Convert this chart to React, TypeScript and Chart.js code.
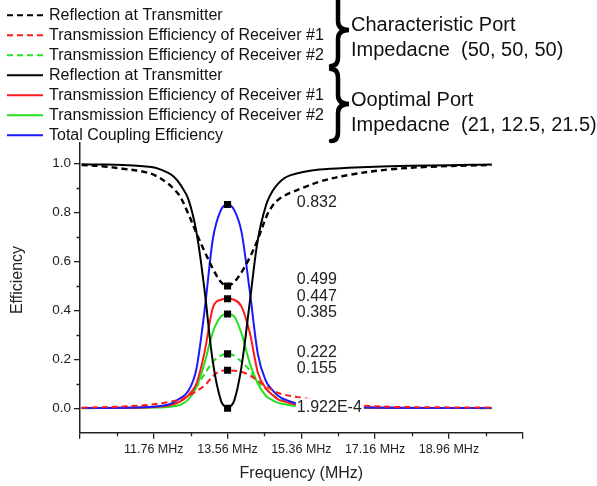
import React, { useEffect, useRef } from 'react';
import { Chart, registerables } from 'chart.js';

Chart.register(...registerables);

// ---------- data ----------
const FREQ = [10.0, 10.5, 11.0, 11.5, 11.8, 12.1, 12.25, 12.4, 12.6, 12.8, 13.0, 13.2, 13.4, 13.56, 13.72, 13.9, 14.1, 14.3, 14.5, 14.65, 14.8, 14.95, 15.1, 15.4, 15.8, 16.5, 17.5, 18.5, 19.5, 20.0];

const CHAR_REFL = [0.993, 0.988, 0.978, 0.966, 0.95, 0.918, 0.895, 0.865, 0.795, 0.715, 0.64, 0.57, 0.515, 0.499, 0.515, 0.555, 0.615, 0.69, 0.78, 0.825, 0.852, 0.868, 0.88, 0.9, 0.925, 0.952, 0.975, 0.986, 0.991, 0.993];
const CHAR_T1 = [0.002, 0.004, 0.007, 0.012, 0.017, 0.025, 0.03, 0.034, 0.05, 0.07, 0.092, 0.13, 0.153, 0.155, 0.153, 0.148, 0.135, 0.112, 0.09, 0.075, 0.062, 0.055, 0.05, 0.042, 0.028, 0.014, 0.006, 0.004, 0.003, 0.003];
const CHAR_T2 = [0.0005, 0.001, 0.002, 0.004, 0.006, 0.01, 0.017, 0.027, 0.053, 0.088, 0.14, 0.19, 0.215, 0.222, 0.215, 0.19, 0.155, 0.11, 0.078, 0.056, 0.038, 0.029, 0.022, 0.013, 0.007, 0.003, 0.0015, 0.001, 0.0008, 0.0006];
const OPT_REFL = [0.996, 0.995, 0.993, 0.988, 0.982, 0.962, 0.945, 0.915, 0.855, 0.72, 0.48, 0.19, 0.03, 0.0002, 0.03, 0.17, 0.43, 0.69, 0.83, 0.885, 0.918, 0.94, 0.952, 0.965, 0.975, 0.982, 0.988, 0.991, 0.994, 0.995];
const OPT_T1 = [0.0004, 0.0008, 0.0015, 0.003, 0.005, 0.01, 0.017, 0.027, 0.052, 0.1, 0.23, 0.41, 0.443, 0.447, 0.443, 0.415, 0.31, 0.145, 0.08, 0.055, 0.035, 0.027, 0.02, 0.01, 0.006, 0.003, 0.0015, 0.001, 0.0007, 0.0005];
const OPT_T2 = [0.0002, 0.0004, 0.0008, 0.0015, 0.0025, 0.005, 0.008, 0.013, 0.035, 0.085, 0.185, 0.31, 0.375, 0.385, 0.375, 0.305, 0.185, 0.1, 0.05, 0.033, 0.022, 0.016, 0.012, 0.007, 0.004, 0.002, 0.001, 0.0006, 0.0004, 0.0003];
const TOTAL = [0.0005, 0.001, 0.002, 0.004, 0.007, 0.014, 0.025, 0.04, 0.07, 0.16, 0.4, 0.69, 0.81, 0.832, 0.81, 0.72, 0.48, 0.22, 0.11, 0.075, 0.05, 0.036, 0.027, 0.012, 0.007, 0.004, 0.002, 0.001, 0.0008, 0.0006];

const MARKER_FREQ = 13.56;
const MARKER_VALUES = [0.832, 0.499, 0.447, 0.385, 0.222, 0.155, 0.0002];
const VALUE_LABELS = ['0.832', '0.499', '0.447', '0.385', '0.222', '0.155', '1.922E-4'];
const VALUE_LABEL_Y = [0.839, 0.527, 0.456, 0.39, 0.229, 0.16, 0.004];
const VALUE_LABEL_X = 15.25;

const X_MAJOR = [9.96, 11.76, 13.56, 15.36, 17.16, 18.96, 20.76];
const X_LABELED = [11.76, 13.56, 15.36, 17.16, 18.96];
const X_MINOR = [10.86, 12.66, 14.46, 16.26, 18.06, 19.86];
const Y_MAJOR = [0, 0.2, 0.4, 0.6, 0.8, 1.0];
const Y_MINOR = [0.1, 0.3, 0.5, 0.7, 0.9];

const X_TITLE = 'Frequency (MHz)';
const Y_TITLE = 'Efficiency';
const LEGEND_LABELS = [
  'Reflection at Transmitter',
  'Transmission Efficiency of Receiver #1',
  'Transmission Efficiency of Receiver #2',
  'Reflection at Transmitter',
  'Transmission Efficiency of Receiver #1',
  'Transmission Efficiency of Receiver #2',
  'Total Coupling Efficiency',
];
const GROUP_TEXT = [
  ['Characteristic Port', 'Impedacne  (50, 50, 50)'],
  ['Ooptimal Port', 'Impedacne  (21, 12.5, 21.5)'],
];

// ---------- styles ----------
const FONT = "'Liberation Sans', Arial, Helvetica, sans-serif";
const BLACK = '#000000';
const RED = '#ff1a1a';
const GREEN = '#22e022';
const BLUE = '#1a1aff';
const TEXT = '#222222';
const DASH = [6, 4];

const SERIES = [
  { data: CHAR_REFL, color: BLACK, dashed: true, width: 2.4, order: 2, smooth: true },
  { data: CHAR_T1, color: RED, dashed: true, width: 2, order: 3, smooth: false },
  { data: CHAR_T2, color: GREEN, dashed: true, width: 2, order: 7, smooth: false },
  { data: OPT_REFL, color: BLACK, dashed: false, width: 2, order: 1, smooth: true },
  { data: OPT_T1, color: RED, dashed: false, width: 2, order: 5, smooth: false },
  { data: OPT_T2, color: GREEN, dashed: false, width: 2, order: 6, smooth: false },
  { data: TOTAL, color: BLUE, dashed: false, width: 2, order: 4, smooth: false },
];

function drawBrace(ctx: CanvasRenderingContext2D, x0: number, yTop: number, yBot: number, yTip: number, xTip: number) {
  const xs = x0 + 7;
  ctx.beginPath();
  ctx.moveTo(x0, yTop);
  ctx.quadraticCurveTo(xs, yTop, xs, yTop + 9);
  ctx.lineTo(xs, yTip - 9);
  ctx.quadraticCurveTo(xs, yTip, xTip, yTip);
  ctx.quadraticCurveTo(xs, yTip, xs, yTip + 9);
  ctx.lineTo(xs, yBot - 9);
  ctx.quadraticCurveTo(xs, yBot, x0, yBot);
  ctx.stroke();
}

const decorPlugin = {
  id: 'decor',
  afterDatasetsDraw(chart: any) {
    const ctx: CanvasRenderingContext2D = chart.ctx;
    const xs = chart.scales.x;
    const ys = chart.scales.y;
    ctx.save();
    ctx.font = `16px ${FONT}`;
    ctx.textBaseline = 'middle';
    ctx.textAlign = 'left';
    const px = xs.getPixelForValue(VALUE_LABEL_X);
    VALUE_LABELS.forEach((t, i) => {
      const py = ys.getPixelForValue(VALUE_LABEL_Y[i]);
      if (i === VALUE_LABELS.length - 1) {
        const w = ctx.measureText(t).width;
        ctx.fillStyle = '#ffffff';
        ctx.fillRect(px - 1, py - 9, w + 3, 18);
      }
      ctx.fillStyle = TEXT;
      ctx.fillText(t, px, py);
    });
    ctx.restore();
  },
  afterDraw(chart: any) {
    const ctx: CanvasRenderingContext2D = chart.ctx;
    const xs = chart.scales.x;
    const ys = chart.scales.y;
    const area = chart.chartArea;
    ctx.save();
    // minor ticks
    ctx.strokeStyle = TEXT;
    ctx.lineWidth = 1.3;
    ctx.beginPath();
    X_MINOR.forEach((v) => {
      const p = Math.round(xs.getPixelForValue(v)) + 0.5;
      ctx.moveTo(p, area.bottom);
      ctx.lineTo(p, area.bottom + 3.5);
    });
    Y_MINOR.forEach((v) => {
      const p = Math.round(ys.getPixelForValue(v)) + 0.5;
      ctx.moveTo(area.left, p);
      ctx.lineTo(area.left - 3.5, p);
    });
    ctx.stroke();

    // y-axis title
    ctx.save();
    ctx.translate(18, 280);
    ctx.rotate(-Math.PI / 2);
    ctx.font = `16px ${FONT}`;
    ctx.fillStyle = TEXT;
    ctx.textAlign = 'center';
    ctx.textBaseline = 'middle';
    ctx.fillText(Y_TITLE, 0, 0);
    ctx.restore();

    // legend
    ctx.font = `16px ${FONT}`;
    ctx.textBaseline = 'middle';
    ctx.textAlign = 'left';
    LEGEND_LABELS.forEach((t, i) => {
      const y = 15.3 + i * 20;
      const s = SERIES[i];
      ctx.strokeStyle = s.color;
      ctx.lineWidth = 2;
      ctx.setLineDash(s.dashed ? DASH : []);
      ctx.beginPath();
      ctx.moveTo(7, y);
      ctx.lineTo(43, y);
      ctx.stroke();
      ctx.setLineDash([]);
      ctx.fillStyle = '#111111';
      ctx.fillText(t, 49, y);
    });

    // braces
    ctx.strokeStyle = '#000';
    ctx.lineWidth = 4.5;
    ctx.lineCap = 'round';
    drawBrace(ctx, 331, -8, 66, 30, 349);
    drawBrace(ctx, 331, 69, 141, 104, 349);

    // group text
    ctx.font = `20px ${FONT}`;
    ctx.fillStyle = '#111111';
    ctx.fillText(GROUP_TEXT[0][0], 351, 25);
    ctx.fillText(GROUP_TEXT[0][1], 351, 50);
    ctx.fillText(GROUP_TEXT[1][0], 351, 100);
    ctx.fillText(GROUP_TEXT[1][1], 351, 125);
    ctx.restore();
  },
};

export default function App() {
  const ref = useRef<HTMLCanvasElement>(null);
  useEffect(() => {
    if (!ref.current) return;
    const datasets: any[] = SERIES.map((s) => ({
      type: 'line',
      data: FREQ.map((f, i) => ({ x: f, y: s.data[i] })),
      borderColor: s.color,
      borderWidth: s.width,
      borderDash: s.dashed ? DASH : [],
      pointRadius: 0,
      fill: false,
      cubicInterpolationMode: s.smooth ? 'default' : 'monotone',
      tension: s.smooth ? 0.35 : 0,
      order: s.order,
    }));
    datasets.push({
      type: 'scatter',
      data: MARKER_VALUES.map((v) => ({ x: MARKER_FREQ, y: v })),
      pointStyle: 'rect',
      pointRadius: 5,
      backgroundColor: '#000',
      borderWidth: 0,
      order: 0,
    });
    const chart = new Chart(ref.current, {
      type: 'line',
      data: { datasets },
      options: {
        responsive: false,
        animation: false,
        events: [],
        layout: { padding: { top: 143, right: 74.3, left: 0, bottom: 0 } },
        plugins: { legend: { display: false }, tooltip: { enabled: false } },
        scales: {
          x: {
            type: 'linear',
            min: 9.96,
            max: 20.76,
            afterBuildTicks: (s: any) => {
              s.ticks = X_MAJOR.map((v) => ({ value: v }));
            },
            afterFit: (s: any) => {
              s.height = 53.3;
            },
            ticks: {
              autoSkip: false,
              maxRotation: 0,
              padding: 3,
              color: TEXT,
              font: { family: FONT, size: 12.5 },
              callback: (v: any) => (X_LABELED.some((l) => Math.abs(l - v) < 1e-6) ? `${Number(v).toFixed(2)} MHz` : ''),
            },
            grid: { drawOnChartArea: false, drawTicks: true, tickLength: 6, color: TEXT, lineWidth: 1.3 },
            border: { display: true, color: TEXT, width: 1.5 },
            title: { display: true, text: X_TITLE, color: TEXT, font: { family: FONT, size: 16 }, padding: { top: 0, bottom: 3 } },
          },
          y: {
            type: 'linear',
            min: -0.1,
            max: 1.083,
            afterBuildTicks: (s: any) => {
              s.ticks = Y_MAJOR.map((v) => ({ value: v }));
            },
            afterFit: (s: any) => {
              s.width = 80;
            },
            ticks: {
              padding: 3,
              color: TEXT,
              font: { family: FONT, size: 13.5 },
              callback: (v: any) => Number(v).toFixed(1),
            },
            grid: { drawOnChartArea: false, drawTicks: true, tickLength: 6, color: TEXT, lineWidth: 1.3 },
            border: { display: true, color: TEXT, width: 1.5 },
            title: { display: false },
          },
        },
      },
      plugins: [decorPlugin],
    } as any);
    return () => chart.destroy();
  }, []);
  return (
    <div style={{ position: 'fixed', left: 0, top: 0, width: 597, height: 486, background: '#fff' }}>
      <canvas ref={ref} width={597} height={486} style={{ display: 'block', width: 597, height: 486 }} />
    </div>
  );
}
